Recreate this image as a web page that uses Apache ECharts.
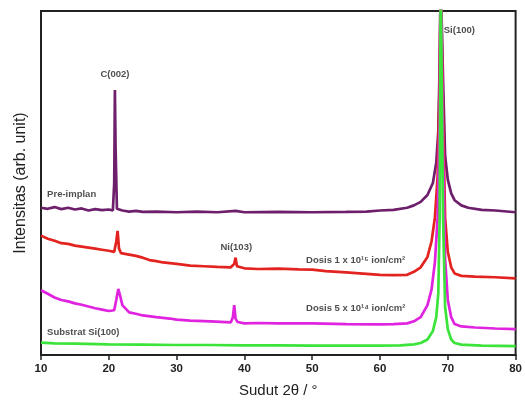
<!DOCTYPE html>
<html><head><meta charset="utf-8">
<script src="https://cdn.jsdelivr.net/npm/echarts@6/dist/echarts.min.js"></script>
<style>html,body{margin:0;padding:0;background:#fff;}#c{width:525px;height:403px;}</style>
</head><body><div id="c"></div>
<script>
// 2θ (degrees) vs intensity (arb. unit, offset-stacked)
const preImplan = [[10,42.8],[11,42.5],[12,43.0],[13,42.4],[14,42.8],[15,42.3],[16,42.6],[17,42.0],[18,42.4],[19,42.1],[20,42.3],[20.6,42.0],[20.8,50],[20.9,77],[21.0,60],[21.2,42.5],[22,42.0],[23,41.7],[24,41.9],[25,41.6],[27,41.7],[30,41.5],[33,41.7],[36,41.5],[38.7,41.9],[40,41.5],[45,41.6],[50,41.5],[55,41.6],[58,41.7],[60,42.0],[62,42.2],[64,42.8],[65,43.5],[66,44.5],[67,46.5],[67.8,50],[68.3,56],[68.6,65],[68.8,85],[68.95,110],[69.1,110],[69.3,80],[69.6,58],[70,51],[70.5,47],[71,45],[72,43.5],[73,42.8],[75,42.2],[77,42.0],[80,41.5]];
const dosis1e15 = [[10,34.7],[11,33.8],[12,33.2],[13,32.5],[14,32.3],[15,31.8],[16,31.5],[17,31.2],[18,30.9],[19,30.6],[20,30.3],[20.8,30.0],[21.1,33],[21.3,36.1],[21.5,31],[21.8,29.6],[23,29.2],[24,28.8],[25,28.3],[26,27.6],[27,27.3],[28,26.9],[30,26.5],[32,26.0],[34,25.8],[36,25.6],[38,25.5],[38.5,26.5],[38.7,28.3],[38.9,25.8],[40,25.2],[42,25.0],[45,25.1],[48,24.9],[50,24.8],[52,24.4],[55,24.0],[58,23.6],[60,23.3],[62,23.2],[64,23.3],[65,24.2],[66,25.5],[67,28.5],[67.6,33],[68.1,40],[68.5,52],[68.8,80],[68.95,110],[69.1,110],[69.3,70],[69.6,40],[70,30],[70.5,25.5],[71,23.7],[72,23.0],[74,22.8],[77,22.6],[80,22.3]];
const dosis5e14 = [[10,18.8],[11,17.8],[12,16.7],[13,16.0],[14,15.6],[15,15.0],[16,14.6],[17,14.1],[18,13.6],[19,13.2],[20,12.8],[20.8,13.0],[21.1,16],[21.4,19.2],[21.7,17],[22,14.5],[23,12.4],[24,12.0],[25,11.5],[27,11.0],[29,10.6],[30,10.3],[32,10.0],[35,9.8],[38,9.5],[38.3,11],[38.5,14.5],[38.7,10.5],[39,9.6],[40,9.2],[42,9.3],[45,9.2],[50,9.2],[55,9.0],[60,8.9],[62,9.0],[64,9.2],[65,9.8],[66,11.0],[67,14.5],[67.6,19],[68.1,27],[68.5,40],[68.8,70],[68.95,110],[69.1,110],[69.3,60],[69.6,28],[70,16],[70.5,11],[71,9],[72,8.3],[74,8.0],[77,7.7],[80,7.5]];
const substrat = [[10,3.6],[12,3.4],[15,3.3],[20,3.1],[25,3.0],[30,2.9],[35,2.9],[40,2.8],[45,2.8],[50,2.7],[55,2.7],[60,2.7],[63,2.8],[65,3.1],[66,3.5],[67,4.5],[67.8,7],[68.3,11],[68.6,18],[68.8,40],[68.95,110],[69.1,110],[69.3,40],[69.6,14],[70,7.5],[70.5,4.5],[71,3.5],[72,3.0],[75,2.7],[80,2.6]];
const xTicks = [10,20,30,40,50,60,70,80];
// annotations: [text, 2θ, intensity, align]
const annotations = [
  ['C(002)', 20.9, 81.5, 'center'],
  ['Si(100)', 69.4, 94.5, 'left'],
  ['Pre-implan', 10.9, 46.8, 'left'],
  ['Ni(103)', 38.8, 31.2, 'center'],
  ['Dosis 1 x 10\u00B9\u2075 ion/cm\u00B2', 49.1, 27.4, 'left'],
  ['Dosis 5 x 10\u00B9\u2074 ion/cm\u00B2', 49.1, 13.6, 'left'],
  ['Substrat Si(100)', 10.9, 6.6, 'left']
];
const chart = echarts.init(document.getElementById('c'), null, {renderer:'canvas'});
const mk = (name, data, color) => ({
  name, type:'line', data, showSymbol:false, symbol:'none', clip:true,
  lineStyle:{color, width:2.7}, z:2
});
chart.setOption({
  animation:false,
  grid:{left:41, right:7, top:11, bottom:46, show:true, borderColor:'#222', borderWidth:2, containLabel:false},
  xAxis:{type:'value', min:10, max:80, interval:10,
    axisLine:{show:true, lineStyle:{color:'#222', width:2}},
    axisTick:{show:true, length:5, lineStyle:{color:'#222', width:1.5}},
    splitLine:{show:false},
    axisLabel:{color:'#222', fontSize:11.5, fontWeight:'bold', fontFamily:'Liberation Sans', margin:8,
      formatter:v => xTicks.includes(v) ? String(v) : ''},
    name:'Sudut 2\u03B8 / \u00B0', nameLocation:'middle', nameGap:28,
    nameTextStyle:{color:'#222', fontSize:15, fontFamily:'Liberation Sans'}
  },
  yAxis:{type:'value', min:0, max:100,
    axisLine:{show:true, lineStyle:{color:'#222', width:2}},
    axisTick:{show:false}, axisLabel:{show:false}, splitLine:{show:false},
    name:'Intensitas (arb. unit)', nameLocation:'middle', nameGap:12,
    nameTextStyle:{color:'#222', fontSize:16, fontFamily:'Liberation Sans'}
  },
  series:[
    mk('Pre-implan', preImplan, '#6e1f6c'),
    mk('Dosis 1e15', dosis1e15, '#e3231f'),
    mk('Dosis 5e14', dosis5e14, '#e023de'),
    mk('Substrat', substrat, '#3be33a'),
    {type:'scatter', symbolSize:0, z:5, silent:true,
      data: annotations.map(a => ({value:[a[1], a[2]],
        label:{show:true, position:'inside', formatter:a[0], align:a[3], verticalAlign:'middle',
          color:'#222', fontSize:9.5, fontWeight:'bold', fontFamily:'Liberation Sans'}}))
    }
  ]
});
</script></body></html>
